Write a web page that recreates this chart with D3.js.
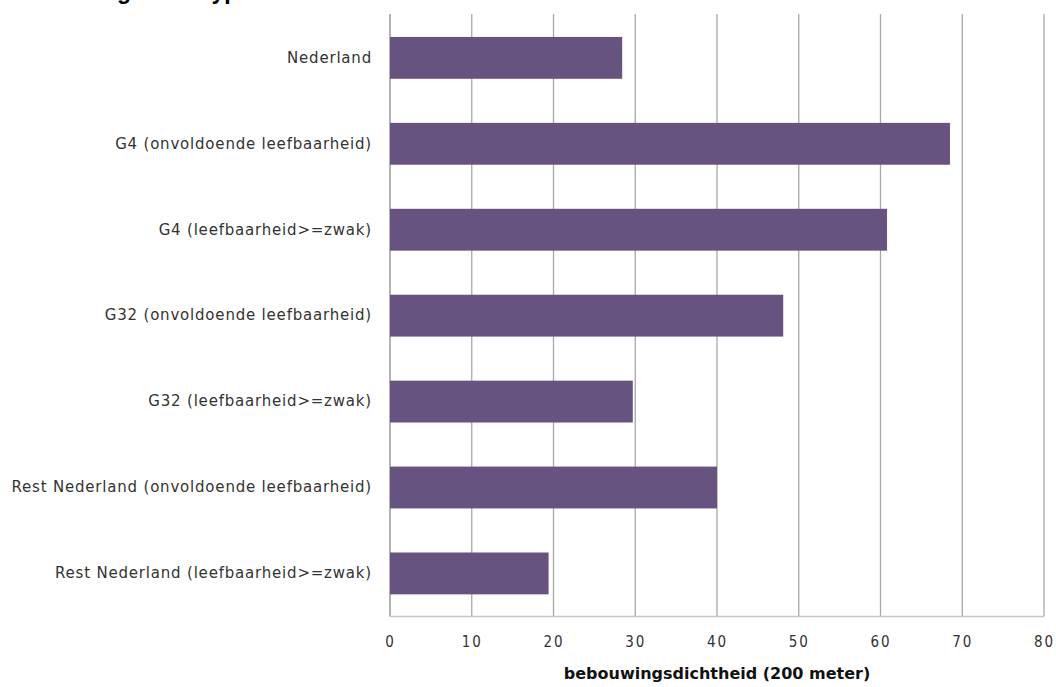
<!DOCTYPE html>
<html><head><meta charset="utf-8">
<script src="https://cdn.jsdelivr.net/npm/d3@7"></script>
<style>
html,body{margin:0;padding:0;background:#fff;}
svg{display:block;}
</style></head>
<body>
<svg id="chart" width="1056" height="687"></svg>
<script>
const categories = [
  "Nederland",
  "G4 (onvoldoende leefbaarheid)",
  "G4 (leefbaarheid>=zwak)",
  "G32 (onvoldoende leefbaarheid)",
  "G32 (leefbaarheid>=zwak)",
  "Rest Nederland (onvoldoende leefbaarheid)",
  "Rest Nederland (leefbaarheid>=zwak)"
];
const values = [28.4, 68.5, 60.8, 48.1, 29.7, 40.0, 19.4];
const xTicks = [0, 10, 20, 30, 40, 50, 60, 70, 80];
const xTitle = "bebouwingsdichtheid (200 meter)";
const titlePrefix = "Dichtheid naar ";
const titleMain = "gebiedstype";

(function () {
const svg = d3.select("#chart");
const pL = 390, pR = 1044, pT = 14.9, pB = 616.4;

const x = d3.scaleLinear().domain([0, 80]).range([pL, pR]);
const y = d3.scaleBand().domain(categories).range([pT, pB]).paddingInner(0.513).paddingOuter(0.2565);

// title (cut off at the top edge, as in the reference)
const t = svg.append("text").attr("y", -1.5)
  .attr("font-family", "Liberation Sans, Arial, sans-serif")
  .attr("font-weight", "bold").attr("font-size", 23).attr("fill", "#000");
const tp = t.append("tspan").text(titlePrefix);
t.append("tspan").text(titleMain);
const pw = tp.node().getComputedTextLength();
t.attr("x", 117 - pw);

// gridlines
svg.append("g").selectAll("line").data(xTicks).join("line")
  .attr("x1", d => x(d)).attr("x2", d => x(d))
  .attr("y1", 14).attr("y2", pB)
  .attr("stroke", d => d === 0 ? "#8a8a8a" : "#a8a8a8").attr("stroke-width", 1.3);

// bottom axis line
svg.append("line").attr("x1", pL).attr("x2", pR).attr("y1", pB).attr("y2", pB)
  .attr("stroke", "#c4c4c4").attr("stroke-width", 1.5);

// bars
svg.append("g").selectAll("rect").data(categories).join("rect")
  .attr("x", x(0)).attr("y", d => y(d))
  .attr("width", (d, i) => x(values[i]) - x(0))
  .attr("height", y.bandwidth())
  .attr("fill", "#67537f");

// x axis labels
const xAxis = d3.axisBottom(x).tickValues(xTicks).tickSize(0).tickPadding(0).tickFormat(d3.format("d"));
const gx = svg.append("g").attr("transform", `translate(0,${pB + 20})`).call(xAxis);
gx.select(".domain").remove();
gx.selectAll("text")
  .attr("font-family", "DejaVu Sans Condensed, DejaVu Sans, sans-serif").attr("font-size", 15)
  .attr("letter-spacing", 2).attr("fill", "#333");

// y axis labels
const yAxis = d3.axisLeft(y).tickSize(0).tickPadding(18);
const gy = svg.append("g").attr("transform", `translate(${pL},0)`).call(yAxis);
gy.select(".domain").remove();
gy.selectAll("text")
  .attr("font-family", "DejaVu Sans, sans-serif").attr("font-size", 15)
  .attr("letter-spacing", 0.8).attr("fill", "#333");

// axis title
svg.append("text").attr("x", 717).attr("y", 679).attr("text-anchor", "middle")
  .attr("font-family", "DejaVu Sans, sans-serif").attr("font-weight", "bold")
  .attr("font-size", 16).attr("fill", "#111").text(xTitle);
})();
</script>
</body></html>
